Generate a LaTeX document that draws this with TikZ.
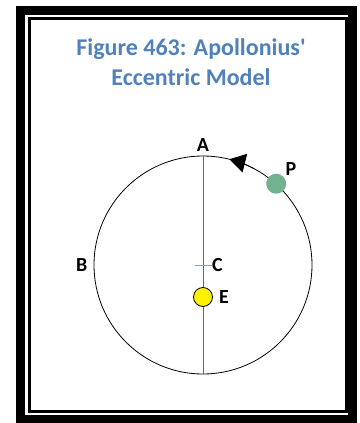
\documentclass[tikz,border=0pt]{standalone}
\usepackage{fontspec}
\setmainfont{Carlito}
\newfontfamily\plaincarlito{Carlito}
\usetikzlibrary{arrows.meta, positioning, calc}

\definecolor{titleblue}{RGB}{79,129,189}
\definecolor{planetgreen}{RGB}{114,178,145}
\definecolor{tickblue}{RGB}{120,160,210}

\tikzset{
    lbl/.style={font=\fontsize{20}{22}\selectfont\bfseries, inner sep=1pt},
    ball/.style={circle, inner sep=0pt},
}

\begin{document}
\begin{tikzpicture}[x=1pt, y=-1pt]
    \useasboundingbox (0,0) rectangle (359,423);
    % double frame
    \draw[line width=9pt] (20,10) rectangle (352,419);
    \draw[line width=3pt] (29.5,18.5) rectangle (346.5,411.5);

    % title
    \node[font=\plaincarlito\fontsize{24}{30}\selectfont\bfseries, text=titleblue, align=center]
        (title) at (191,62) {Figure 463: Apollonius'\\Eccentric Model};

    % orbit
    \node[circle, draw, line width=0.8pt, minimum size=218pt, inner sep=0pt] (orbit) at (203,265) {};
    \draw[gray!80!black, line width=0.8pt] (orbit.north) -- (orbit.south);
    \draw[tickblue, line width=0.8pt] ([xshift=-8pt]orbit.center) -- ([xshift=9pt]orbit.center);

    % direction of motion
    \draw[line width=0.8pt, -{Triangle[length=16pt, width=19pt]}]
        ($(orbit.center)+(62:109pt)$) arc[start angle=62, end angle=76, radius=109pt];

    % bodies
    \node[ball, draw, fill=yellow, line width=0.8pt, minimum size=19pt] (earth) at (203,297) {};
    \node[ball, fill=planetgreen, minimum size=20pt] (planet) at (orbit.48) {};

    % labels
    \node[lbl, above=3pt of orbit.north] (A) {A};
    \node[lbl, left=5pt of orbit.west] (B) {B};
    \node[lbl, right=8pt of orbit.center] (C) {C};
    \node[lbl, right=5pt of earth] (E) {E};
    \node[lbl, above right=0pt and 1pt of planet] (P) {P};
\end{tikzpicture}
\end{document}
